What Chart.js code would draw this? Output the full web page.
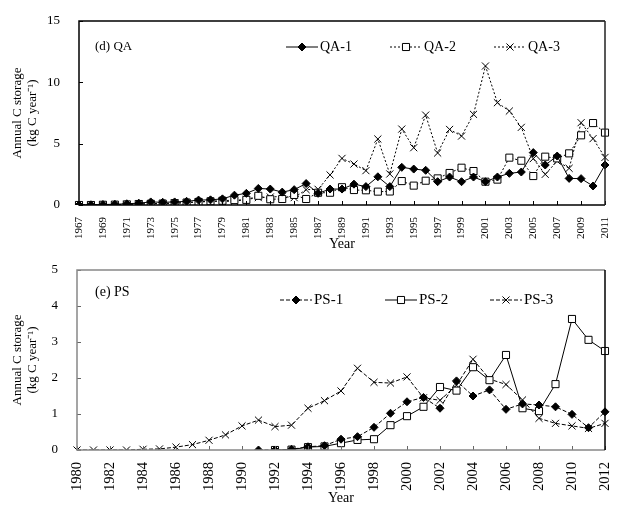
<!DOCTYPE html>
<html>
<head>
<meta charset="utf-8">
<script src="https://cdn.jsdelivr.net/npm/chart.js@4.4.1/dist/chart.umd.min.js"></script>
<style>
body { margin: 0; background: #fff; }
.wrap { position: absolute; left: 0; }
</style>
</head>
<body>
<div class="wrap" style="top:0"><canvas id="chartQA" width="637" height="251"></canvas></div>
<div class="wrap" style="top:251px"><canvas id="chartPS" width="637" height="266"></canvas></div>
<script>
// (d) QA
var yearsQA = [1967, 1968, 1969, 1970, 1971, 1972, 1973, 1974, 1975, 1976,
	1977, 1978, 1979, 1980, 1981, 1982, 1983, 1984, 1985, 1986,
	1987, 1988, 1989, 1990, 1991, 1992, 1993, 1994, 1995, 1996,
	1997, 1998, 1999, 2000, 2001, 2002, 2003, 2004, 2005, 2006,
	2007, 2008, 2009, 2010, 2011];
var qa1 = [0, 0.02, 0.04, 0.06, 0.1, 0.15, 0.25, 0.22, 0.25, 0.3,
	0.4, 0.42, 0.5, 0.8, 0.95, 1.35, 1.3, 1.05, 1.25, 1.75,
	0.95, 1.3, 1.3, 1.7, 1.5, 2.3, 1.5, 3.07, 2.93, 2.83,
	1.9, 2.28, 1.9, 2.28, 1.9, 2.28, 2.58, 2.69, 4.27, 3.26,
	3.99, 2.17, 2.15, 1.55, 3.26];
var qa2 = [0, 0, 0.02, 0.03, 0.05, 0.08, 0.1, 0.12, 0.15, 0.2,
	0.25, 0.3, 0.35, 0.4, 0.42, 0.75, 0.47, 0.49, 0.82, 0.49,
	1.0, 1.0, 1.45, 1.22, 1.2, 1.09, 1.1, 1.95, 1.58, 1.98,
	2.17, 2.61, 3.04, 2.77, 1.9, 2.07, 3.86, 3.61, 2.36, 3.94,
	3.8, 4.21, 5.68, 6.68, 5.9];
var qa3 = [0, 0, 0.02, 0.03, 0.05, 0.08, 0.1, 0.12, 0.15, 0.2,
	0.25, 0.3, 0.3, 0.3, 0.45, 0.6, 0.65, 0.7, 0.6, 1.25,
	1.28, 2.45, 3.8, 3.34, 2.8, 5.38, 2.53, 6.19, 4.67, 7.33,
	4.24, 6.16, 5.62, 7.39, 11.33, 8.34, 7.66, 6.33, 3.78, 2.5,
	3.58, 2.99, 6.71, 5.41, 3.88];

// (e) PS
var yearsPS = [1980, 1981, 1982, 1983, 1984, 1985, 1986, 1987, 1988, 1989,
	1990, 1991, 1992, 1993, 1994, 1995, 1996, 1997, 1998, 1999,
	2000, 2001, 2002, 2003, 2004, 2005, 2006, 2007, 2008, 2009,
	2010, 2011, 2012];
var ps1 = [null, null, null, null, null, null, null, null, null, null,
	null, 0, 0, 0.02, 0.09, 0.12, 0.3, 0.37, 0.63, 1.02,
	1.34, 1.46, 1.16, 1.92, 1.5, 1.67, 1.13, 1.28, 1.25, 1.2,
	0.99, 0.62, 1.06];
var ps2 = [null, null, null, null, null, null, null, null, null, null,
	null, null, 0, 0.01, 0.08, 0.1, 0.19, 0.28, 0.3, 0.69,
	0.94, 1.2, 1.75, 1.65, 2.3, 1.94, 2.64, 1.16, 1.08, 1.83,
	3.64, 3.06, 2.75];
var ps3 = [0, 0, 0, 0, 0.02, 0.03, 0.08, 0.15, 0.27, 0.42,
	0.67, 0.83, 0.65, 0.69, 1.16, 1.37, 1.64, 2.27, 1.88, 1.86,
	2.03, 1.45, 1.38, 1.8, 2.52, 1.97, 1.82, 1.39, 0.88, 0.74,
	0.67, 0.6, 0.74];

var SERIF = "'Liberation Serif', 'Times New Roman', serif";

function drawMarker(ctx, style, x, y, r) {
	ctx.beginPath();
	if (style === 'rectRot') {
		ctx.moveTo(x, y - r); ctx.lineTo(x + r, y); ctx.lineTo(x, y + r); ctx.lineTo(x - r, y);
		ctx.closePath(); ctx.fill(); ctx.stroke();
	} else if (style === 'rect') {
		var s = r * Math.SQRT1_2;
		ctx.rect(x - s, y - s, 2 * s, 2 * s);
		ctx.fill(); ctx.stroke();
	} else {
		var c = r * Math.SQRT1_2;
		ctx.moveTo(x - c, y - c); ctx.lineTo(x + c, y + c);
		ctx.moveTo(x + c, y - c); ctx.lineTo(x - c, y + c);
		ctx.stroke();
	}
}

// frame, inward ticks, panel label and in-plot legend
var paperPlugin = {
	id: 'paper',
	afterDraw: function(chart, args, opts) {
		var ctx = chart.ctx, a = chart.chartArea;
		var xs = chart.scales.x, ys = chart.scales.y;
		ctx.save();
		ctx.lineWidth = 1;
		ctx.strokeStyle = opts.tickColor;
		ctx.beginPath();
		ys.ticks.forEach(function(t) {
			var y = Math.round(ys.getPixelForValue(t.value)) + 0.5;
			ctx.moveTo(a.left, y); ctx.lineTo(a.left + 4, y);
		});
		xs.ticks.forEach(function(t, i) {
			if (i % 2) return;
			var x = Math.round(xs.getPixelForTick(i)) + 0.5;
			ctx.moveTo(x, a.bottom); ctx.lineTo(x, a.bottom - 4);
		});
		ctx.stroke();

		ctx.lineWidth = 1.5;
		ctx.strokeStyle = opts.frameColor;
		ctx.beginPath();
		ctx.moveTo(a.right, a.top); ctx.lineTo(a.left, a.top);
		ctx.lineTo(a.left, a.bottom); ctx.lineTo(a.right, a.bottom);
		ctx.stroke();
		ctx.strokeStyle = opts.rightColor;
		ctx.beginPath();
		ctx.moveTo(a.right, a.top); ctx.lineTo(a.right, a.bottom);
		ctx.stroke();

		ctx.fillStyle = '#000';
		ctx.textBaseline = 'middle';
		ctx.font = opts.labelFont;
		ctx.fillText(opts.label, a.left + opts.labelX, a.top + opts.labelY);

		ctx.font = opts.legendFont;
		chart.data.datasets.forEach(function(ds, i) {
			var x0 = a.left + opts.legendX + i * opts.legendGap;
			var y = a.top + opts.legendY;
			ctx.strokeStyle = '#000';
			ctx.lineWidth = 1;
			ctx.setLineDash(ds.borderDash || []);
			ctx.beginPath(); ctx.moveTo(x0, y); ctx.lineTo(x0 + opts.legendLine, y); ctx.stroke();
			ctx.setLineDash([]);
			ctx.fillStyle = ds.pointBackgroundColor;
			drawMarker(ctx, ds.pointStyle, x0 + opts.legendLine / 2, y, ds.pointRadius);
			ctx.fillStyle = '#000';
			ctx.fillText(ds.label, x0 + opts.legendLine + 2, y);
		});
		ctx.restore();
	}
};

function makeOptions(cfg) {
	return {
		responsive: false,
		animation: false,
		layout: { padding: { top: cfg.top, right: 32, bottom: 0, left: 0 } },
		plugins: {
			legend: { display: false },
			tooltip: { enabled: false },
			paper: cfg.paper
		},
		scales: {
			x: {
				type: 'category',
				grid: { display: false },
				border: { display: false },
				ticks: {
					autoSkip: false, minRotation: 90, maxRotation: 90, padding: 4,
					color: '#000', font: { family: SERIF, size: cfg.xFont },
					callback: function(v, i) { return i % 2 ? '' : this.getLabelForValue(v); }
				},
				title: { display: true, text: 'Year', color: '#000', padding: { top: 0, bottom: cfg.yearPad },
					font: { family: SERIF, size: 14, lineHeight: 1 } },
				afterFit: function(s) { s.height = cfg.xHeight; }
			},
			y: {
				min: 0, max: cfg.ymax,
				grid: { display: false },
				border: { display: false },
				ticks: { stepSize: cfg.step, padding: 11, color: '#000', font: { family: SERIF, size: 13 } },
				title: { display: true, text: ['Annual C storage', '(kg C year\u207B\u00B9)'], color: '#000',
					padding: { top: 10, bottom: 0 }, font: { family: SERIF, size: 13, lineHeight: 1.15 } },
				afterFit: function(s) { s.width = cfg.yWidth; }
			}
		}
	};
}

function series(label, data, style, dash, fill, r) {
	return {
		label: label, data: data,
		borderColor: '#000', borderWidth: 1, borderDash: dash,
		pointStyle: style, pointRadius: r, pointBorderWidth: 1,
		pointBackgroundColor: fill, pointBorderColor: '#000',
		fill: false, tension: 0, spanGaps: false
	};
}

new Chart(document.getElementById('chartQA'), {
	type: 'line',
	data: {
		labels: yearsQA,
		datasets: [
			series('QA-1', qa1, 'rectRot', [], '#000', 4),
			series('QA-2', qa2, 'rect', [2, 2], '#fff', 5),
			series('QA-3', qa3, 'crossRot', [2, 2], '#fff', 5)
		]
	},
	options: makeOptions({
		top: 21, xHeight: 46, yWidth: 79, ymax: 15, step: 5, xFont: 11, yearPad: 0,
		paper: { frameColor: '#000', rightColor: '#222', tickColor: '#000',
			label: '(d) QA', labelX: 16, labelY: 26, labelFont: '13px ' + SERIF,
			legendFont: '14px ' + SERIF, legendX: 207, legendY: 26, legendGap: 104, legendLine: 32 }
	}),
	plugins: [paperPlugin]
});

new Chart(document.getElementById('chartPS'), {
	type: 'line',
	data: {
		labels: yearsPS,
		datasets: [
			series('PS-1', ps1, 'rectRot', [4, 2], '#000', 4),
			series('PS-2', ps2, 'rect', [], '#fff', 5),
			series('PS-3', ps3, 'crossRot', [4, 2], '#fff', 5)
		]
	},
	options: makeOptions({
		top: 19, xHeight: 67, yWidth: 77, ymax: 5, step: 1, xFont: 14.5, yearPad: 12,
		paper: { frameColor: '#888', rightColor: '#000', tickColor: '#666',
			label: '(e) PS', labelX: 18, labelY: 22, labelFont: '14px ' + SERIF,
			legendFont: '15px ' + SERIF, legendX: 203, legendY: 30, legendGap: 105, legendLine: 32 }
	}),
	plugins: [paperPlugin]
});
</script>
</body>
</html>
